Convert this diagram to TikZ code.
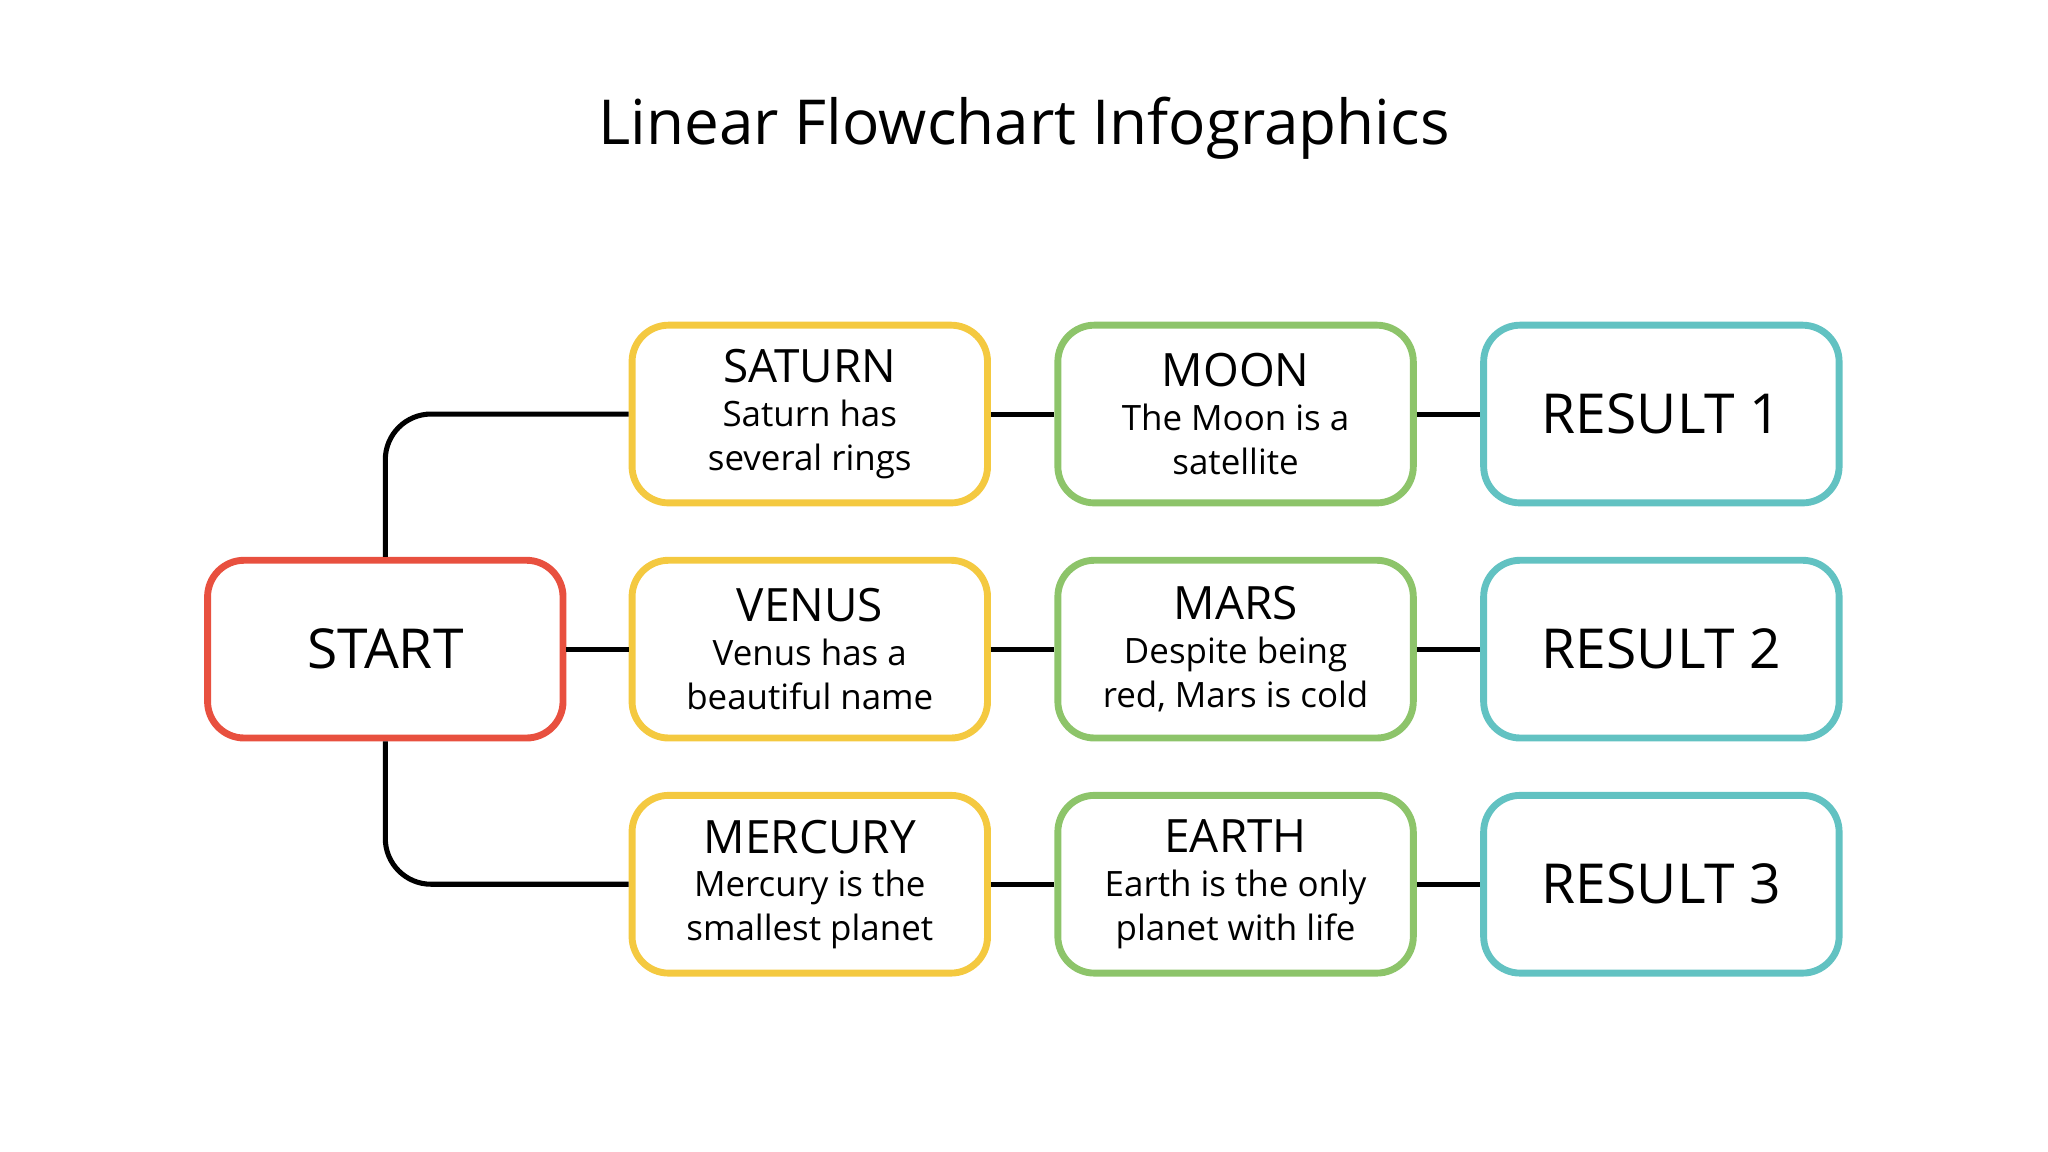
\documentclass[tikz,border=0pt]{standalone}
\usepackage{fontspec}
\setmainfont{Open Sans}
\definecolor{cred}{HTML}{E8503F}
\definecolor{cyel}{HTML}{F4C940}
\definecolor{cgrn}{HTML}{8DC46A}
\definecolor{cteal}{HTML}{62C2C2}
\tikzset{
 box/.style={draw, line width=1.5pt, rounded corners=0.28cm, minimum width=2.72cm, minimum height=1.36cm, align=center, inner sep=0pt},
 big/.style={font=\fontsize{12pt}{14pt}\selectfont},
 link/.style={line width=1.1pt, black}
}
\newcommand{\hsz}{\fontsize{10pt}{10pt}\selectfont}
\newcommand{\bsz}{\fontsize{7.6pt}{8.8pt}\selectfont}
\begin{document}
\begin{tikzpicture}[x=0.01cm,y=-0.01cm]
\useasboundingbox (0,0) rectangle (1568,882);
\node[font=\fontsize{13.5pt}{16pt}\selectfont] (title) at (784,98) {Linear Flowchart Infographics};
\node[box, draw=cred, big] (start) at (295,497) {START};
\node[box, draw=cyel] (saturn) at (620,317) {\hsz SATURN\\[-2.5pt]\bsz Saturn has\\[-2.5pt]\bsz several rings};
\node[box, draw=cyel] (venus) at (620,497) {\hsz VENUS\\[-2.5pt]\bsz Venus has a\\[-2.5pt]\bsz beautiful name};
\node[box, draw=cyel] (mercury) at (620,677) {\hsz MERCURY\\[-2.5pt]\bsz Mercury is the\\[-2.5pt]\bsz smallest planet};
\node[box, draw=cgrn] (moon) at (946,317) {\hsz MOON\\[-2.5pt]\bsz The Moon is a\\[-2.5pt]\bsz satellite};
\node[box, draw=cgrn] (mars) at (946,497) {\hsz MARS\\[-2.5pt]\bsz Despite being\\[-2.5pt]\bsz red, Mars is cold};
\node[box, draw=cgrn] (earth) at (946,677) {\hsz EARTH\\[-2.5pt]\bsz Earth is the only\\[-2.5pt]\bsz planet with life};
\node[box, draw=cteal, big] (r1) at (1272,317) {RESULT 1};
\node[box, draw=cteal, big] (r2) at (1272,497) {RESULT 2};
\node[box, draw=cteal, big] (r3) at (1272,677) {RESULT 3};
\draw[link, rounded corners=0.35cm] (start.north) |- (saturn.west);
\draw[link, rounded corners=0.35cm] (start.south) |- (mercury.west);
\draw[link] (start) -- (venus);
\draw[link] (saturn) -- (moon);
\draw[link] (venus) -- (mars);
\draw[link] (mercury) -- (earth);
\draw[link] (moon) -- (r1);
\draw[link] (mars) -- (r2);
\draw[link] (earth) -- (r3);
\end{tikzpicture}
\end{document}
